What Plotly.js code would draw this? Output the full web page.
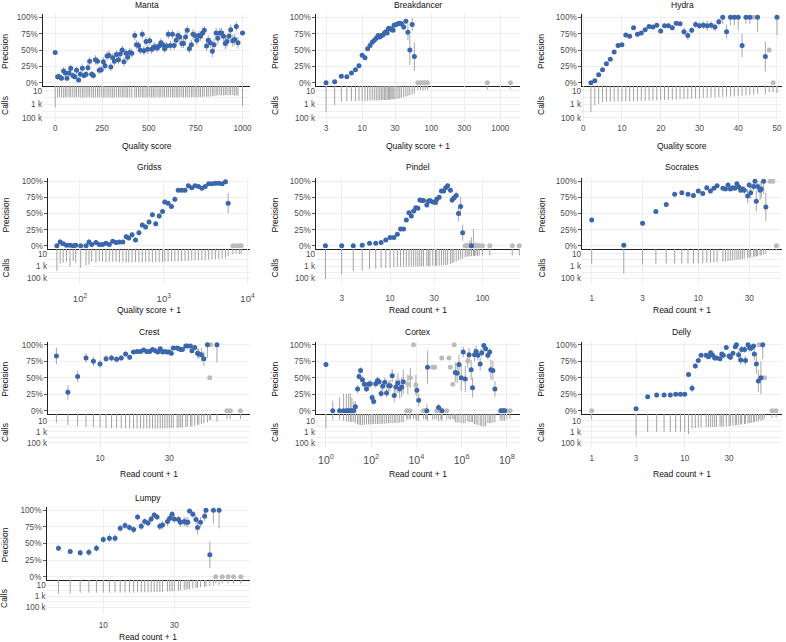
<!DOCTYPE html>
<html><head><meta charset="utf-8">
<script src="https://cdn.plot.ly/plotly-3.0.1.min.js"></script>
<style>html,body{margin:0;padding:0;background:#fff}#chart{width:786px;height:642px}</style>
</head><body><div id="chart"></div>
<script>
// ---------------- DATA ----------------
// Manta (Quality score)
const mantaX=[0,13,23,34,45,54,63,74,83,94,105,114,125,134,145,154,165,175,184,195,204,215,226,235,246,257,266,277,287,297,307,316,327,338,347,358,367,378,387,398,409,425,434,445,454,465,474,485,494,505,515,524,533,544,555,564,575,584,595,604,615,626,635,646,655,665,676,685,696,705,716,727,736,747,756,767,776,787,796,808,817,828,839,848,859,868,879,888,899,908,917,928,937,948,958,967,976,1000];
const mantaP=[46,9,9,7,18,15,7,15,22,11,9,19,4,13,22,11,13,23,33,13,11,35,33,19,20,32,26,41,42,24,38,33,43,35,44,50,32,45,39,46,45,72,58,57,50,74,49,63,51,64,51,54,55,53,56,61,58,52,56,74,57,74,57,65,72,70,60,60,70,80,52,58,74,72,65,72,71,76,80,56,65,61,48,58,76,68,76,76,71,60,63,71,81,64,66,86,61,76];
const mantaE=[1,5,5,4,6,5,4,5,6,5,4,6,3,5,6,5,5,6,6,5,5,7,6,6,6,7,6,7,7,6,7,7,7,7,7,7,7,7,7,7,7,7,7,7,7,7,7,7,7,7,7,7,7,7,7,7,7,7,7,7,7,7,7,7,7,7,7,7,7,7,7,8,8,7,8,7,7,7,7,8,8,8,9,9,8,9,8,8,8,9,9,8,8,9,9,7,9,2];
const mantaN=[2500,90,80,85,95,90,85,80,90,85,90,85,80,90,95,85,90,80,85,90,95,90,85,80,90,95,90,85,80,90,95,90,85,90,80,85,90,95,85,90,90,85,90,80,85,90,95,90,85,80,90,85,80,85,90,85,80,90,85,80,85,90,80,85,90,80,85,90,85,80,85,80,75,80,85,80,75,80,70,75,70,65,60,55,50,45,45,40,45,40,45,40,45,40,50,45,50,1600];

// Breakdancer (Quality score + 1)
const breakX=[3,4,5,6,7,8,9,10,11,12,13,14,15,16,17,18,19,20,21,22,23,24,25,26,27,28,29,31,33,35,37,40,43,46,49,53,57];
const breakP=[0,1.5,10,9,15,20,26,42,38,52,57,62,65,68,72,70,72,73,76,78,76,83,83,82,81,80,88,89,90,91,90,85,94,77,50,89,40];
const breakE=[1,1,2,2,2,2,2,2,2,2,2,2,2,2,2,2,2,2,2,2,2,2,2,2,2,2,2,2,3,3,4,5,4,12,23,10,22];
const breakN=[13000,1300,400,300,300,300,300,300,300,280,270,260,250,250,240,240,230,220,220,210,200,200,190,190,180,170,160,150,140,120,100,80,70,55,40,35,25];
const breakGreyX=[64,70,76,82,88,650,1400];
const breakGreyP=[0,0,0,0,0,0,0];
const breakGreyE=[0,0,0,0,0,0,0];
const breakGreyN=[8,7,8,6,7,6,5];

// Hydra (Quality score)
const hydraX=[2,3,4,5,6,7,8,9,10,11,12,13,14,15,16,17,18,19,20,21,22,23,24,25,26,27,28,29,30,31,32,33,34,35,36,37,38,39,40,41,42,43,45,47,50];
const hydraP=[0,3,12,20,29,36,47,57,58,73,71,84,74,76,81,86,85,88,79,87,87,84,91,90,78,72,80,89,87,88,87,88,85,93,100,78,100,100,100,57,100,100,100,40,100];
const hydraE=[1,1,1,2,2,2,2,2,2,2,2,2,2,2,3,3,3,3,4,3,3,4,3,3,6,7,5,5,5,6,8,6,6,5,10,11,12,12,20,18,10,10,22,23,27];
const hydraN=[14000,1400,800,500,400,400,380,370,360,340,330,320,310,300,280,270,260,250,230,220,210,200,190,180,160,150,140,130,120,110,100,95,90,80,75,70,65,60,55,50,45,40,25,30,20];
const hydraGreyX=[44,48,49];
const hydraGreyP=[100,50,0];
const hydraGreyE=[0,0,0];
const hydraGreyN=[35,15,15];

// Gridss (Quality score + 1)
const gridssX=[53,58,63,69,76,83,89,102,118,128,138,155,170,186,204,224,246,270,296,325,356,382,419,460,505,554,608,667,732,803,882,968,1028,1127,1236,1357,1489,1634,1794,1968,2160,2370,2600,2853,3130,3436,3770,4137,4540,4982,5467,5880];
const gridssP=[0,6,3,1,1,0,1,0,0,6,2,5,2,2,4,2,7,5,6,6,14,12,17,9,20,32,29,37,48,34,46,53,68,66,61,72,86,86,86,93,90,93,92,89,92,96,96,97,97,96,99,66];
const gridssE=[1,5,3,2,2,1,2,1,1,4,2,3,2,2,3,2,3,3,3,3,4,4,4,4,4,4,4,4,4,4,4,4,4,4,4,4,3,3,3,2,2,2,2,2,2,2,2,1,1,2,1,16];
const gridssN=[6000,400,300,200,1200,150,300,2000,800,600,200,300,180,200,250,220,200,230,250,240,260,250,240,230,250,260,240,250,230,240,230,220,210,200,190,180,170,160,150,140,130,120,110,100,95,90,80,75,70,60,50,25];
const gridssGreyX=[6700,7300,8000,8400];
const gridssGreyP=[0,0,0,0];
const gridssGreyE=[0,0,0,0];
const gridssGreyN=[12,10,12,10];

// Pindel (Read count + 1)
const pindelX=[2,3,4,5,6,7,8,9,10,11,12,13,14,15,16,17,18,19,20,21,22,23,25,26,27,29,31,32,34,36,38,40,42,45,47,49,52,55,58,61,76];
const pindelP=[0,0,0,1,4,4,5,9,13,13,18,26,26,40,51,46,54,59,58,71,70,70,63,69,70,68,67,72,75,85,85,90,93,86,71,74,78,50,61,20,0];
const pindelE=[0,0,0,1,1,1,1,1,1,1,1,2,2,2,2,2,2,2,2,2,2,2,3,3,3,3,3,3,3,3,3,3,3,4,5,5,6,12,15,12,13];
const pindelN=[130000,20000,6000,5000,3000,2500,2000,2000,1800,1500,1400,1300,1300,1300,1300,1200,1200,1200,1200,1100,1100,1100,1000,1000,1000,900,900,900,800,800,700,700,600,450,350,280,200,120,80,60,25];
const pindelGreyX=[65,68,70,73,80,82,85,88,92,100,120,210,250];
const pindelGreyP=[0,0,0,0,0,0,0,0,0,0,0,0,0];
const pindelGreyE=[0,5,0,8,26,0,5,0,4,0,0,0,0];
const pindelGreyN=[40,30,30,25,25,25,20,25,20,20,20,20,20];

// Socrates (Read count + 1)
const socratesX=[1,2,3,4,5,6,7,8,9,10,11,12,13,14,15,17,18,19,20,21,22,23,24,25,26,27,29,30,31,33,34,35,36,38,39,41,43];
const socratesP=[40,1,35,53,64,80,82,80,78,85,81,90,85,89,93,89,88,94,88,90,89,96,91,86,88,86,77,94,82,92,100,69,92,86,88,100,60];
const socratesE=[3,1,3,3,3,2,2,2,2,2,2,2,2,2,2,2,2,2,3,3,3,3,4,4,5,6,11,5,9,7,10,16,6,15,14,20,22];
const socratesN=[400,16000,600,450,400,400,400,400,400,400,350,300,280,260,250,200,180,160,140,120,110,100,90,80,70,60,50,45,40,35,30,28,25,20,18,15,12];
const socratesGreyX=[47,50,54];
const socratesGreyP=[100,100,0];
const socratesGreyE=[0,0,0];
const socratesGreyN=[3,3,3];

// Crest (Read count + 1)
const crestX=[5,6,7,8,9,10,11,12,13,14,15,16,17,18,19,20,21,22,23,24,25,26,27,28,29,30,31,32,34,35,36,37,39,40,42,43,45,47,48,50,52,55,64];
const crestP=[83,28,52,80,75,71,79,80,78,80,86,81,89,90,90,92,90,90,93,91,89,94,89,90,89,89,87,95,95,94,93,93,98,98,98,91,96,87,86,85,79,100,100];
const crestE=[13,11,9,7,7,6,5,5,5,4,4,4,3,3,3,3,3,3,3,3,3,3,3,3,3,3,4,3,3,3,3,3,2,2,2,4,3,7,8,10,11,20,27];
const crestN=[25,60,100,120,150,180,200,220,230,240,250,250,260,260,260,260,260,250,250,250,250,240,240,230,230,220,210,200,190,180,170,160,140,130,110,100,80,60,50,40,30,20,15];
const crestGreyX=[57,58,75,79,93];
const crestGreyP=[50,100,0,0,0];
const crestGreyE=[0,0,0,0,0];
const crestGreyN=[8,8,5,5,5];

// Cortex (Read count + 1)
const cortexX=[1,2,4,6,8,10,12,14,17,20,25,29,34,41,50,62,76,91,110,129,158,191,224,275,324,398,479,589,692,851,1047,1230,1514,1820,2239,2630,10470,12590,28840,30900,95500,134900,524800,631000,758600,955000,1175000,1445000,2138000,2630000,3020000,3715000,4365000,5248000,6607000,7762000,9550000,11480000,14450000,17380000,19500000,23990000,29510000,56230000,67610000,79430000];
const cortexP=[70,0,0,0,0,0,0,0,0,6,33,52,61,47,40,33,40,41,20,14,41,46,44,26,37,43,27,38,38,53,23,36,42,33,36,44,31,16,0,66,5,0,58,57,70,50,89,48,85,62,35,85,90,84,71,88,99,94,84,89,62,61,33,0,0,0];
const cortexE=[3,15,20,26,26,26,26,20,14,8,6,5,5,5,5,5,5,6,5,5,6,6,6,6,7,7,7,8,9,10,10,12,15,15,15,18,10,10,10,25,5,5,15,15,15,20,8,20,10,15,15,10,8,8,10,6,3,4,6,6,15,15,12,3,3,3];
const cortexN=[250,6,6,10,12,14,16,18,16,27,40,55,60,60,55,50,45,45,40,40,40,40,40,38,36,35,30,30,28,28,26,25,24,22,20,18,10,10,8,10,12,12,20,22,22,25,30,25,20,18,20,40,50,60,80,100,120,100,30,28,25,22,20,10,10,10];
const cortexGreyX=[3715,4169,5129,5370,7413,9550,20420,25120,52480,64570,79430,120200,131800,218800,275400,316200,407400,467700,1862000,50120000,100000000,138000000];
const cortexGreyP=[0,40,0,50,100,39,0,0,66,66,0,0,80,0,80,66,40,100,75,0,0,0];
const cortexGreyE=[0,15,0,15,0,15,0,0,0,0,0,0,0,0,0,0,0,0,10,0,0,0];
const cortexGreyN=[6,6,5,6,5,6,6,5,6,6,5,6,5,6,5,6,5,6,12,6,5,5];

// Delly (Read count + 1)
const dellyX=[3,4,5,6,7,8,9,10,11,12,13,14,15,17,18,19,20,21,22,24,25,26,28,30,31,33,35,36,38,40,41,44,45,48,50,52,55,56,59,62,66,69];
const dellyP=[3,21,24,24,24,25,25,25,55,34,68,76,84,84,82,88,84,80,80,79,86,84,96,83,81,87,97,100,85,77,93,93,76,100,95,95,98,86,71,45,50,100];
const dellyE=[1,2,2,2,2,2,2,2,3,6,4,3,3,3,3,3,3,3,3,3,3,3,3,4,4,4,3,5,6,7,5,5,7,6,5,5,4,10,15,17,25,22];
const dellyN=[7000,1000,1000,1000,1000,1000,1000,1000,2500,250,200,180,170,160,150,150,140,140,130,120,120,110,100,90,85,80,70,60,55,50,45,40,35,30,28,25,20,18,15,12,10,8];
const dellyGreyX=[1,63,72,87,96];
const dellyGreyP=[0,100,50,0,0];
const dellyGreyE=[0,0,0,0,0];
const dellyGreyN=[5,5,4,3,3];

// Lumpy (Read count + 1)
const lumpyX=[5,6,7,8,9,10,11,12,13,14,15,16,17,18,19,20,21,22,23,24,25,27,28,29,30,32,33,35,36,37,38,40,42,43,45,48,49,52,55,60];
const lumpyP=[43,38,36,37,43,56,58,58,73,77,74,71,90,76,83,81,87,93,90,76,78,83,88,94,87,86,82,83,82,82,99,94,86,74,82,91,100,33,100,100];
const lumpyE=[4,4,5,5,5,5,6,6,5,5,5,5,4,6,5,5,5,4,4,6,6,7,6,5,6,6,7,7,7,8,2,5,7,10,8,7,8,20,20,27];
const lumpyN=[300,300,230,230,230,220,220,220,220,220,220,210,210,200,200,190,190,180,180,170,170,150,140,130,120,100,90,70,60,55,50,40,35,30,25,20,18,14,10,9];
const lumpyGreyX=[57,63,69,75,84];
const lumpyGreyP=[0,0,0,0,0];
const lumpyGreyE=[0,0,0,0,0];
const lumpyGreyN=[5,5,5,5,5];

// tick labels
const precTicks=[0,25,50,75,100];
const precTickText=['0%','25%','50%','75%','100%'];
const callTicks=[10,1000,100000];
const callTickText=['10','1 k','100 k'];
const callMinorTicks=[100,10000];

// ---------------- LAYOUT ----------------
const W=786,H=642;
const fx=p=>p/W, fy=p=>1-p/H;
const rows=[
 {pt:14,pb:86,cb:122,cr:[5.6,0.26],tl:0,ty:5,xty:146},
 {pt:178,pb:249,cb:284,cr:[5.9,0.25],tl:6,ty:167,xty:310},
 {pt:341.5,pb:414,cb:448,cr:[5.9,-0.2],tl:2,ty:332,xty:474},
 {pt:507,pb:580,cb:614,cr:[6.2,0.07],tl:3,ty:498.5,xty:637}
];
const sup=n=>'10<sup>'+n+'</sup>';
const panels=[
 {t:'Manta',X:mantaX,P:mantaP,E:mantaE,N:mantaN,gX:[],gP:[],gE:[],gN:[],log:false,range:[-65,1040],tv:[0,250,500,750,1000],xt:'Quality score',L:43,R:250,row:0,ytx:5},
 {t:'Breakdancer',X:breakX,P:breakP,E:breakE,N:breakN,gX:breakGreyX,gP:breakGreyP,gE:breakGreyE,gN:breakGreyN,log:true,range:[0.332,3.285],tv:[3,10,30,100,300,1000],xt:'Quality score + 1',L:316,R:520,row:0,ytx:275},
 {t:'Hydra',X:hydraX,P:hydraP,E:hydraE,N:hydraN,gX:hydraGreyX,gP:hydraGreyP,gE:hydraGreyE,gN:hydraGreyN,log:false,range:[-0.3,51.3],tv:[0,10,20,30,40,50],xt:'Quality score',L:582,R:782,row:0,ytx:541},
 {t:'Gridss',X:gridssX,P:gridssP,E:gridssE,N:gridssN,gX:gridssGreyX,gP:gridssGreyP,gE:gridssGreyE,gN:gridssGreyN,log:true,range:[1.618,4.03],tv:[100,1000,10000],tt:[sup(2),sup(3),sup(4)],xt:'Quality score + 1',L:48,R:250,row:1,ytx:5,fs:9.5},
 {t:'Pindel',X:pindelX,P:pindelP,E:pindelE,N:pindelN,gX:pindelGreyX,gP:pindelGreyP,gE:pindelGreyE,gN:pindelGreyN,log:true,range:[0.199,2.406],tv:[3,10,30,100],xt:'Read count + 1',L:316,R:520,row:1,ytx:274},
 {t:'Socrates',X:socratesX,P:socratesP,E:socratesE,N:socratesN,gX:socratesGreyX,gP:socratesGreyP,gE:socratesGreyE,gN:socratesGreyN,log:true,range:[-0.091,1.785],tv:[1,3,10,30],xt:'Read count + 1',L:582,R:782,row:1,ytx:541},
 {t:'Crest',X:crestX,P:crestP,E:crestE,N:crestN,gX:crestGreyX,gP:crestGreyP,gE:crestGreyE,gN:crestGreyN,log:true,range:[0.641,2.034],tv:[10,30],xt:'Read count + 1',L:48,R:250,row:2,ytx:5},
 {t:'Cortex',X:cortexX,P:cortexP,E:cortexE,N:cortexN,gX:cortexGreyX,gP:cortexGreyP,gE:cortexGreyE,gN:cortexGreyN,log:true,range:[-0.44,8.58],tv:[1,100,1e4,1e6,1e8],tt:[sup(0),sup(2),sup(4),sup(6),sup(8)],xt:'Read count + 1',L:316,R:520,row:2,ytx:275,fs:10.5},
 {t:'Delly',X:dellyX,P:dellyP,E:dellyE,N:dellyN,gX:dellyGreyX,gP:dellyGreyP,gE:dellyGreyE,gN:dellyGreyN,log:true,range:[-0.104,2.046],tv:[1,3,10,30],xt:'Read count + 1',L:582,R:782,row:2,ytx:541},
 {t:'Lumpy',X:lumpyX,P:lumpyP,E:lumpyE,N:lumpyN,gX:lumpyGreyX,gP:lumpyGreyP,gE:lumpyGreyE,gN:lumpyGreyN,log:true,range:[0.62,1.986],tv:[10,30],xt:'Read count + 1',L:46.7,R:250,row:3,ytx:4}
];

const BLUE='#3a66ad', GREY='#bcbcbc', ERR='#b0b0b0', BAR='#a3a3a3', GRID='#ebebeb', AX='#222', TXT='#4d4d4d';
const FONT='Liberation Sans, Arial, Helvetica, sans-serif';
const TF=8.2;
const layout={width:W,height:H,margin:{l:0,r:0,t:0,b:0},showlegend:false,paper_bgcolor:'#fff',plot_bgcolor:'rgba(0,0,0,0)',
  font:{family:FONT,size:TF,color:TXT},annotations:[]};
const traces=[];
const plus=(P,E)=>P.map((p,i)=>Math.min(E[i],100-p));
const minus=(P,E)=>P.map((p,i)=>Math.min(E[i],p));

panels.forEach((pn,k)=>{
  const r=rows[pn.row];
  const a=2*k+1,b=2*k+2;
  const xa=a===1?'xaxis':'xaxis'+a, ya=a===1?'yaxis':'yaxis'+a;
  const xr=a===1?'x':'x'+a, yr=a===1?'y':'y'+a;
  const type=pn.log?'log':'linear';
  const dom=[fx(pn.L),fx(pn.R)];
  layout[xa]={domain:dom,type:type,range:pn.range,anchor:yr,tickmode:'array',tickvals:pn.tv,showticklabels:false,
    showline:true,linecolor:AX,linewidth:1.1,ticks:'',showgrid:true,gridcolor:GRID,gridwidth:0.8,zeroline:false};
  layout[ya]={domain:[fy(r.pb),fy(r.pt)],range:[-5,105],anchor:xr,tickmode:'array',tickvals:precTicks,ticktext:precTickText,
    showline:true,linecolor:AX,linewidth:1.1,ticks:'outside',ticklen:2.5,tickwidth:0.8,tickcolor:'#333',
    showgrid:true,gridcolor:GRID,gridwidth:0.8,zeroline:false,tickfont:{size:TF,color:TXT}};
  const xb={domain:dom,type:type,range:pn.range,anchor:'y'+b,tickmode:'array',tickvals:pn.tv,
    showline:false,ticks:r.tl>0?'outside':'',ticklen:r.tl,tickcolor:'rgba(0,0,0,0)',showgrid:true,gridcolor:GRID,gridwidth:0.8,zeroline:false,
    tickfont:{size:pn.fs||TF,color:TXT}};
  if(pn.tt) xb.ticktext=pn.tt;
  layout['xaxis'+b]=xb;
  layout['yaxis'+b]={domain:[fy(r.cb),fy(r.pb)],type:'log',range:r.cr,anchor:'x'+b,tickmode:'array',tickvals:callTicks,ticktext:callTickText,
    showline:false,ticks:'',showgrid:true,gridcolor:GRID,gridwidth:0.8,zeroline:false,tickfont:{size:TF,color:TXT},
    minor:{tickmode:'array',tickvals:callMinorTicks,showgrid:true,gridcolor:GRID,gridwidth:0.8,ticks:''}};

  // calls bars (hanging segments)
  const allX=pn.X.concat(pn.gX), allN=pn.N.concat(pn.gN);
  const bx=[],by=[];
  allX.forEach((x,i)=>{bx.push(x,x,null);by.push(0.1,allN[i],null);});
  traces.push({type:'scatter',mode:'lines',x:bx,y:by,xaxis:'x'+b,yaxis:'y'+b,line:{color:BAR,width:1},hoverinfo:'skip'});

  // grey points
  if(pn.gX.length){
    traces.push({type:'scatter',mode:'markers',x:pn.gX,y:pn.gP,xaxis:xr,yaxis:yr,cliponaxis:false,
      marker:{color:GREY,size:5},
      error_y:{type:'data',symmetric:false,array:plus(pn.gP,pn.gE),arrayminus:minus(pn.gP,pn.gE),color:ERR,thickness:1.1,width:0}});
  }
  // blue points
  traces.push({type:'scatter',mode:'markers',x:pn.X,y:pn.P,xaxis:xr,yaxis:yr,cliponaxis:false,
    marker:{color:BLUE,size:5},
    error_y:{type:'data',symmetric:false,array:plus(pn.P,pn.E),arrayminus:minus(pn.P,pn.E),color:ERR,thickness:1.1,width:0}});

  // text
  const cx=(pn.L+pn.R)/2;
  layout.annotations.push({xref:'paper',yref:'paper',x:fx(cx),y:fy(r.ty),text:pn.t,showarrow:false,xanchor:'center',yanchor:'middle',font:{size:8.5,color:'#111'}});
  layout.annotations.push({xref:'paper',yref:'paper',x:fx(cx),y:fy(r.xty),text:pn.xt,showarrow:false,xanchor:'center',yanchor:'middle',font:{size:8.5,color:'#111'}});
  layout.annotations.push({xref:'paper',yref:'paper',x:fx(pn.ytx),y:fy((r.pt+r.pb)/2+2),text:'Precision',textangle:-90,showarrow:false,xanchor:'center',yanchor:'middle',font:{size:8.5,color:'#111'}});
  layout.annotations.push({xref:'paper',yref:'paper',x:fx(pn.ytx),y:fy((r.pb+r.cb)/2+2),text:'Calls',textangle:-90,showarrow:false,xanchor:'center',yanchor:'middle',font:{size:8.5,color:'#111'}});
});

Plotly.newPlot('chart',traces,layout,{staticPlot:true,displayModeBar:false});
</script></body></html>
